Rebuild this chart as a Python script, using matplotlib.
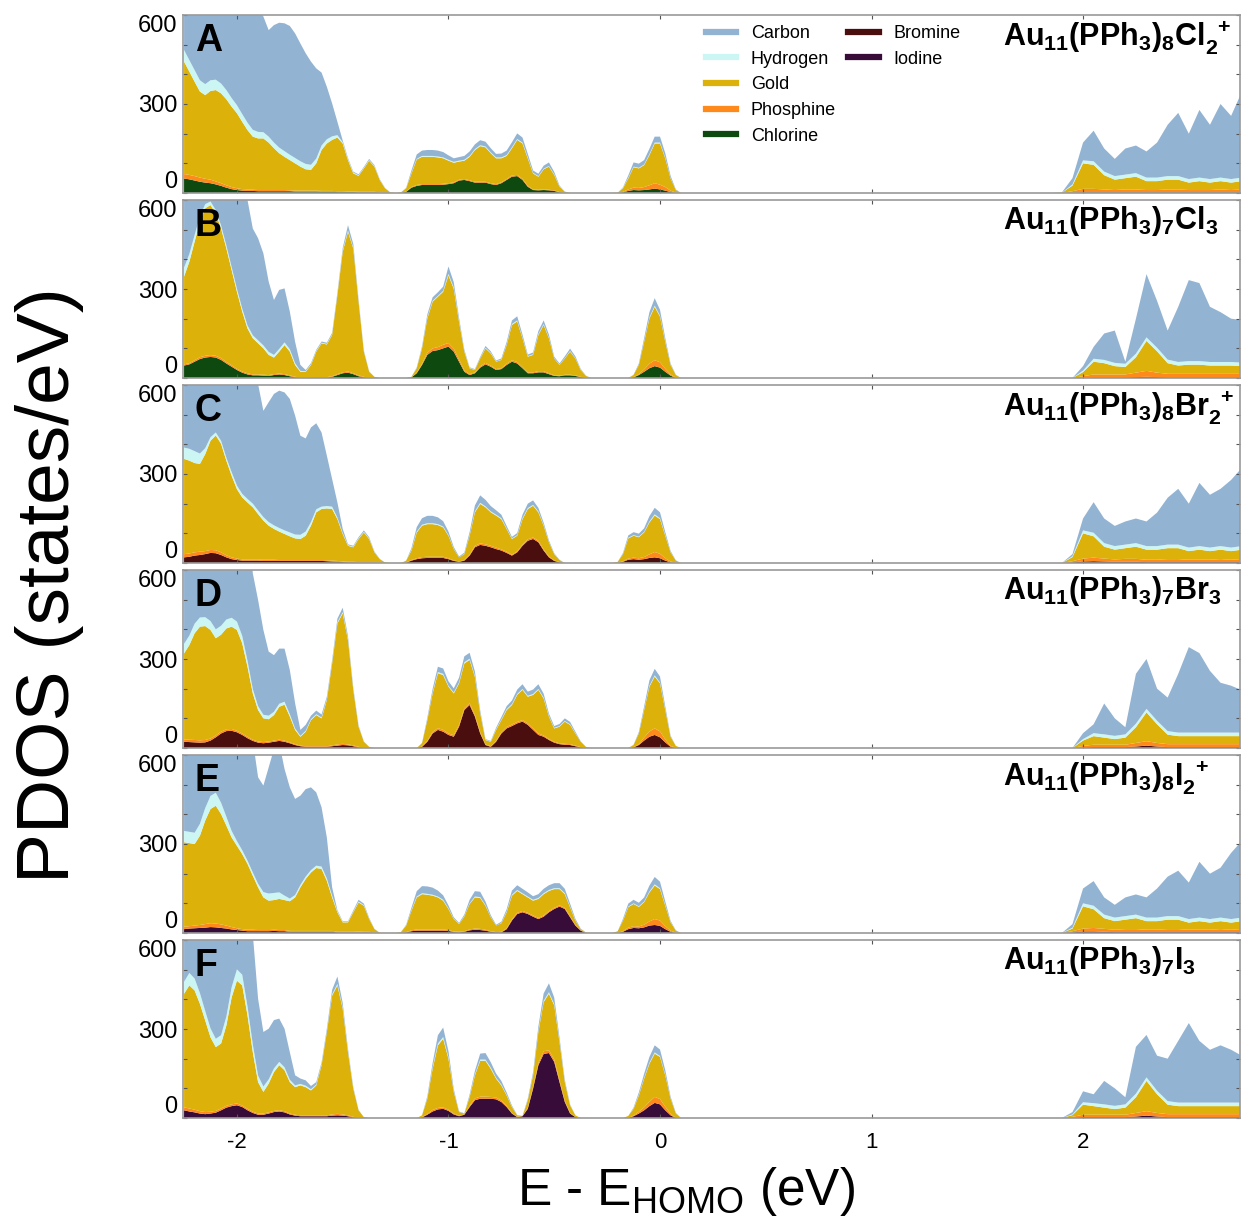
import numpy as np
import matplotlib.pyplot as plt
from matplotlib.lines import Line2D

plt.rcParams['font.family'] = ['Liberation Sans', 'DejaVu Sans']
plt.rcParams['mathtext.fontset'] = 'custom'
plt.rcParams['mathtext.rm'] = 'Liberation Sans'
plt.rcParams['mathtext.bf'] = 'Liberation Sans:bold'
plt.rcParams['mathtext.it'] = 'Liberation Sans:italic'

# energy grid, eV relative to HOMO (occupied side sampled finer than the LUMO side)
energy_low = np.arange(-2.25, 0.15 + 1e-6, 0.025)
energy_high = np.arange(1.85, 2.75 + 1e-6, 0.05)
energy = np.concatenate([energy_low, energy_high])

# ---- A: Au11(PPh3)8Cl2+ ----
a_halogen = [49, 46, 42, 38, 35, 33, 29, 24, 18, 13, 10, 8, 7,
             7, 6, 6, 6, 6, 6, 6, 6, 5, 5, 5, 5, 5, 4, 4, 4, 3,
             3, 3, 3, 2, 2, 2, 2, 1, 0, 0, 0, 0,
             4, 18, 24, 27, 27, 27, 27, 28, 30, 33, 42, 44, 40, 35, 35, 35, 30, 27, 33, 44, 55, 57, 44, 21, 10, 9, 10, 9, 7, 2, 0,
             0, 0, 0, 0, 0, 0, 0, 0, 0, 0,
             2, 7, 10, 9, 10, 12, 15, 12, 8, 3, 0, 0, 0, 0,
             0, 0, 1, 2, 2, 2, 2, 2, 2, 2, 2, 2, 2, 2, 2, 2, 2, 2, 2]
a_phos = [15, 15, 15, 14, 13, 12, 10, 9, 8, 7, 6, 5, 5,
          4, 4, 4, 4, 4, 4, 4,
          3, 3, 3, 3, 3, 3, 3, 3, 3, 3, 3,
          2, 2, 2, 2, 2, 2, 1, 1, 0, 0, 0,
          1, 2, 3, 3, 3, 3, 3, 3, 3, 3, 3, 3, 3, 3, 3, 3, 3, 3, 3, 3, 4, 4, 4, 3, 2, 2, 2, 2, 2, 1, 0,
          0, 0, 0, 0, 0, 0, 0, 0, 0, 0,
          2, 5, 8, 8, 10, 14, 18, 16, 12, 5, 1, 0, 0, 0,
          0, 0, 5, 12, 12, 10, 8, 10, 10, 8, 8, 10, 10, 8, 8, 8, 10, 8, 10]
a_gold = [379, 348, 318, 290, 282, 299, 308, 303, 290, 271, 253, 227, 200, 179, 174, 174,
          160, 141, 124, 112, 102, 92, 81, 72, 70, 92, 138, 160, 172, 181, 161,
          106, 61, 54, 79, 105, 85, 42, 15, 2, 0, 2,
          11, 46, 86, 92, 92, 92, 90, 86, 76, 66, 61, 62, 79, 107, 120, 116, 101, 87, 81, 78, 92, 118, 119, 93, 54, 44, 68, 78, 52, 18, 4,
          0, 0, 0, 0, 0, 0, 0, 0, 0, 1,
          12, 37, 69, 66, 74, 102, 134, 139, 97, 41, 9, 0, 0, 0,
          0, 1, 19, 86, 81, 48, 35, 38, 43, 30, 30, 33, 33, 25, 30, 25, 28, 25, 28]
a_hyd = [39, 39, 39, 38, 37, 36, 35, 33, 31, 29, 27, 26, 25, 23, 22, 21,
         20, 19, 19, 19, 18, 18, 18, 18, 17, 16, 15, 14, 12, 8, 4,
         3, 3, 2, 2, 2, 2, 1, 1, 0, 0, 0,
         1, 2, 2, 3, 3, 3, 3, 3, 3, 3, 3, 3, 3, 3, 3, 3, 3, 3, 3, 3, 3, 3, 3, 3, 2, 2, 2, 2, 2, 1, 0,
         0, 0, 0, 0, 0, 0, 0, 0, 0, 0,
         1, 2, 2, 2, 2, 3, 3, 3, 2, 1, 0, 0, 0, 0,
         0, 0, 4, 10, 12, 12, 12, 12, 12, 12, 12, 12, 12, 12, 12, 12, 12, 12, 12]
a_carbon = [418, 452, 486, 520, 533, 520, 518, 481, 503, 480, 504, 484, 463, 437, 414, 390,
            359, 396, 421, 431, 434, 420, 397, 373, 348, 304, 246, 177, 111, 45, 6,
            4, 3, 3, 3, 4, 3, 2, 1, 0, 0, 0,
            1, 8, 15, 18, 20, 20, 20, 18, 15, 12, 12, 13, 15, 16, 17, 16, 14, 12, 13, 15, 17, 19, 17, 12, 8, 8, 10, 12, 8, 3, 1,
            0, 0, 0, 0, 0, 0, 0, 0, 0, 0,
            2, 8, 14, 14, 15, 18, 20, 20, 15, 8, 2, 0, 0, 0,
            0, 1, 21, 60, 103, 78, 58, 88, 93, 88, 118, 173, 213, 153, 228, 183, 248, 213, 288]

# ---- B: Au11(PPh3)7Cl3 ----
b_halogen = [42, 46, 55, 64, 69, 71, 69, 61, 49, 38, 27, 18, 12,
             9, 9, 8, 7, 10, 12, 10, 6, 2, 1, 1, 1, 1, 1, 1,
             4, 10, 16, 18, 13, 6, 2, 0, 0, 0, 0, 0, 0, 0, 0,
             2, 16, 44, 78, 91, 94, 100, 106, 89, 55, 21, 10, 16, 35, 46, 38, 27, 30, 44, 55, 49, 33, 16, 16, 19, 19, 13, 7, 6, 9, 9, 7, 3, 0,
             0, 0, 0, 0, 0, 0, 0, 0,
             2, 10, 21, 33, 40, 35, 21, 8, 0, 0, 0, 0,
             0, 0, 0, 1, 2, 2, 2, 2, 3, 4, 3, 2, 2, 2, 2, 2, 2, 2, 2]
b_phos = [4, 4, 5, 6, 6, 6, 6, 6, 5, 5, 4, 4, 4,
          3, 3, 3, 3, 3, 3, 3, 3, 2, 1, 1, 2, 2, 2, 2,
          2, 3, 3, 4, 3, 3, 2, 1, 0, 0, 0, 0, 0, 0, 0,
          0, 2, 4, 7, 9, 10, 12, 12, 10, 8, 5, 3, 3, 4, 5, 4, 3, 3, 4, 5, 5, 4, 3, 3, 4, 4, 3, 2, 2, 2, 2, 2, 1, 0,
          0, 0, 0, 0, 0, 0, 0, 0,
          1, 3, 8, 15, 20, 18, 10, 4, 1, 0, 0, 0,
          0, 0, 0, 5, 10, 10, 10, 10, 15, 20, 15, 12, 12, 12, 12, 12, 12, 12, 12]
b_gold = [296, 342, 400, 457, 497, 506, 480, 437, 383, 321, 260, 202, 151,
          122, 105, 89, 68, 56, 74, 98, 80, 40, 19, 19, 41, 86, 114, 110,
          139, 267, 407, 471, 421, 248, 85, 20, 4, 0, 0, 0, 0, 0, 0,
          2, 15, 52, 116, 157, 170, 179, 228, 202, 127, 63, 20, 8, 27, 49, 41, 25, 28, 63, 119, 137, 97, 53, 59, 122, 156, 118, 57, 36, 55, 78, 57, 23, 7,
          0, 0, 0, 0, 0, 0, 0, 0,
          7, 31, 93, 153, 180, 154, 91, 32, 9, 0, 0, 0,
          0, 0, 0, 14, 43, 38, 28, 25, 52, 101, 72, 36, 28, 31, 31, 28, 28, 28, 26]
b_hyd = [30, 26, 22, 18, 14, 12, 11, 10, 10, 10, 10, 10, 10,
         10, 10, 10, 10, 9, 9, 9, 8, 6, 3, 2, 2, 2, 2, 2,
         2, 3, 4, 4, 3, 2, 1, 0, 0, 0, 0, 0, 0, 0, 0,
         0, 1, 2, 3, 3, 3, 3, 5, 4, 3, 2, 1, 1, 1, 2, 2, 1, 1, 2, 3, 3, 2, 2, 2, 3, 3, 2, 1, 1, 1, 2, 1, 1, 0,
         0, 0, 0, 0, 0, 0, 0, 0,
         0, 1, 2, 3, 4, 3, 2, 1, 0, 0, 0, 0,
         0, 0, 0, 5, 10, 11, 11, 11, 12, 12, 12, 12, 12, 12, 12, 12, 12, 12, 12]
b_carbon = [428, 382, 318, 255, 214, 205, 234, 286, 333, 386, 419, 446, 423,
            360, 344, 310, 237, 185, 199, 182, 127, 72, 20, 4, 4, 4, 4, 4,
            5, 6, 8, 18, 12, 6, 3, 1, 0, 0, 0, 0, 0, 0, 0,
            0, 2, 5, 10, 12, 12, 14, 25, 18, 10, 5, 2, 2, 4, 6, 5, 3, 4, 8, 12, 14, 10, 5, 6, 10, 12, 10, 5, 4, 6, 8, 6, 3, 1,
            0, 0, 0, 0, 0, 0, 0, 0,
            1, 4, 10, 18, 25, 20, 10, 4, 1, 0, 0, 0,
            0, 0, 0, 15, 40, 89, 109, 7, 118, 213, 158, 98, 186, 273, 263, 186, 168, 146, 143]

# ---- C: Au11(PPh3)8Br2+ ----
c_halogen = [19, 21, 25, 27, 30, 34, 33, 27, 19, 13, 10, 8, 8,
             8, 8, 7, 7, 7, 7, 7, 7, 7, 7, 7, 7, 7, 7, 6, 5,
             4, 3, 2, 2, 1, 1, 1, 1, 0, 0, 0, 0, 0,
             1, 8, 13, 16, 17, 17, 17, 17, 13, 7, 4, 8, 25, 53, 61, 58, 53, 47, 42, 34, 25, 36, 58, 75, 81, 70, 42, 19, 7, 2,
             0, 0, 0, 0, 0, 0, 0, 0, 0, 0, 0,
             4, 11, 13, 11, 13, 17, 19, 16, 8, 2, 0, 0, 0, 0,
             0, 0, 2, 5, 6, 5, 4, 4, 4, 3, 3, 3, 3, 3, 3, 3, 3, 3, 3]
c_phos = [11, 11, 11, 11, 10, 10, 10, 9, 7, 6, 5, 4, 4,
          4, 4, 4, 4, 4, 3, 3, 3, 3, 3, 3, 3, 3, 3, 3, 3,
          3, 2, 2, 2, 2, 2, 2, 1, 1, 0, 0, 0, 0,
          1, 2, 3, 4, 4, 4, 4, 4, 3, 2, 1, 2, 3, 5, 5, 5, 5, 5, 4, 4, 3, 3, 4, 5, 5, 5, 4, 3, 2, 1,
          0, 0, 0, 0, 0, 0, 0, 0, 0, 0, 0,
          2, 4, 5, 5, 7, 12, 18, 15, 8, 3, 1, 0, 0, 0,
          0, 0, 4, 10, 12, 10, 8, 10, 10, 8, 8, 10, 10, 8, 8, 8, 10, 8, 10]
c_gold = [321, 313, 301, 296, 327, 368, 387, 366, 319, 275, 234, 209, 192,
          176, 153, 132, 115, 104, 96, 88, 80, 73, 71, 82, 116, 161, 172, 175, 174,
          141, 93, 54, 49, 78, 100, 78, 34, 12, 2, 0, 0, 0,
          6, 32, 87, 106, 110, 110, 107, 99, 76, 38, 14, 20, 64, 113, 133, 125, 113, 108, 102, 77, 53, 53, 86, 102, 107, 96, 80, 48, 21, 7,
          0, 0, 0, 0, 0, 0, 0, 0, 0, 0, 4,
          24, 68, 74, 71, 83, 108, 123, 117, 76, 31, 7, 0, 0, 0,
          0, 0, 14, 85, 72, 40, 33, 36, 41, 34, 34, 37, 37, 29, 34, 29, 32, 29, 32]
c_hyd = [38, 40, 40, 35, 20, 12, 10, 10, 10, 12, 12, 12, 12,
         12, 12, 12, 12, 12, 12, 12, 13, 13, 14, 14, 12, 10, 8, 8, 8,
         5, 3, 2, 2, 2, 2, 2, 1, 0, 0, 0, 0, 0,
         0, 2, 3, 3, 3, 3, 3, 3, 2, 1, 0, 1, 2, 3, 4, 3, 3, 3, 3, 2, 2, 2, 3, 3, 3, 3, 2, 1, 1, 0,
         0, 0, 0, 0, 0, 0, 0, 0, 0, 0, 0,
         1, 2, 2, 2, 2, 3, 4, 3, 2, 1, 0, 0, 0, 0,
         0, 0, 3, 10, 12, 12, 12, 12, 12, 12, 12, 12, 12, 12, 12, 12, 12, 12, 12]
c_carbon = [411, 415, 423, 431, 413, 376, 360, 388, 445, 494, 539, 567, 584,
            500, 426, 358, 404, 443, 463, 465, 450, 401, 334, 314, 319, 290, 250, 170, 93,
            51, 14, 3, 3, 4, 5, 4, 2, 1, 0, 0, 0, 0,
            0, 6, 15, 22, 25, 25, 23, 18, 12, 6, 3, 4, 10, 20, 25, 22, 18, 15, 12, 8, 5, 7, 12, 15, 15, 12, 8, 5, 2, 1,
            0, 0, 0, 0, 0, 0, 0, 0, 0, 0, 0,
            3, 8, 10, 10, 12, 18, 22, 20, 10, 4, 1, 0, 0, 0,
            0, 0, 7, 40, 103, 83, 68, 78, 83, 83, 113, 158, 188, 148, 213, 178, 193, 228, 263]

# ---- D: Au11(PPh3)7Br3 ----
d_halogen = [21, 20, 19, 18, 19, 25, 36, 49, 57, 58, 53, 44, 33,
             24, 18, 16, 18, 21, 24, 21, 16, 10, 6, 4, 4, 4, 4, 4, 6,
             8, 10, 9, 6, 2, 0, 0, 0, 0, 0, 0, 0, 0, 0, 0, 0,
             4, 21, 49, 61, 55, 44, 38, 72, 128, 145, 106, 49, 10, 4, 21, 49, 66, 74, 83, 89, 78, 61, 44, 38, 27, 18, 13, 11, 10, 6, 2, 0,
             0, 0, 0, 0, 0, 0, 0, 0,
             2, 10, 25, 38, 44, 36, 19, 4, 0, 0, 0, 0,
             0, 0, 0, 2, 3, 3, 3, 3, 5, 8, 5, 3, 3, 3, 3, 3, 3, 3, 3]
d_phos = [8, 8, 8, 8, 8, 7, 6, 6, 6, 6, 5, 5, 5,
          4, 4, 4, 4, 4, 4, 4, 3, 3, 2, 2, 2, 2, 2, 2, 3,
          4, 4, 3, 3, 2, 1, 0, 0, 0, 0, 0, 0, 0, 0, 0, 0,
          1, 3, 5, 6, 6, 5, 5, 6, 6, 6, 5, 4, 2, 2, 3, 4, 5, 5, 5, 5, 5, 5, 5, 4, 3, 3, 3, 3, 3, 2, 1, 0,
          0, 0, 0, 0, 0, 0, 0, 0,
          1, 3, 10, 18, 22, 20, 10, 3, 1, 0, 0, 0,
          0, 0, 0, 5, 8, 8, 8, 8, 12, 15, 12, 10, 10, 10, 10, 10, 10, 10, 10]
d_gold = [290, 319, 360, 383, 384, 366, 328, 327, 340, 345, 340, 304, 236,
          156, 106, 80, 75, 86, 111, 121, 87, 48, 30, 49, 88, 105, 94, 156, 276,
          408, 440, 352, 187, 68, 20, 4, 0, 0, 0, 0, 0, 0, 0, 0, 0,
          11, 70, 130, 185, 185, 158, 141, 140, 151, 146, 129, 64, 15, 15, 37, 41, 57, 66, 91, 102, 90, 113, 147, 125, 76, 45, 56, 75, 65, 41, 18, 4,
          0, 0, 0, 0, 0, 0, 0, 0,
          7, 36, 93, 151, 175, 162, 99, 31, 6, 0, 0, 0,
          0, 0, 0, 18, 29, 24, 19, 24, 53, 97, 63, 32, 27, 27, 27, 27, 27, 27, 27]
d_hyd = [32, 32, 32, 31, 30, 30, 30, 30, 30, 30, 28, 25, 20,
         15, 13, 12, 12, 11, 10, 10, 8, 5, 3, 3, 3, 3, 3, 3, 3,
         4, 4, 3, 2, 1, 0, 0, 0, 0, 0, 0, 0, 0, 0, 0, 0,
         0, 2, 3, 4, 4, 3, 3, 3, 4, 4, 3, 2, 1, 1, 2, 2, 3, 3, 3, 3, 3, 3, 3, 3, 2, 2, 2, 2, 2, 1, 0, 0,
         0, 0, 0, 0, 0, 0, 0, 0,
         0, 1, 2, 3, 4, 3, 2, 1, 0, 0, 0, 0,
         0, 0, 0, 5, 10, 11, 11, 11, 12, 12, 12, 12, 12, 12, 12, 12, 12, 12, 12]
d_carbon = [449, 421, 381, 360, 359, 372, 400, 388, 367, 361, 374, 422, 506,
            390, 358, 286, 216, 191, 186, 179, 149, 85, 20, 20, 12, 12, 10, 8, 8,
            12, 15, 10, 6, 3, 1, 0, 0, 0, 0, 0, 0, 0, 0, 0, 0,
            1, 6, 12, 18, 18, 15, 14, 16, 20, 20, 15, 8, 2, 2, 5, 8, 10, 12, 15, 16, 14, 15, 16, 13, 8, 6, 7, 9, 8, 5, 2, 0,
            0, 0, 0, 0, 0, 0, 0, 0,
            1, 4, 10, 18, 22, 20, 10, 3, 0, 0, 0, 0,
            0, 0, 0, 20, 30, 104, 59, 24, 168, 168, 108, 113, 198, 288, 268, 208, 168, 158, 143]

# ---- E: Au11(PPh3)8I2+ ----
e_halogen = [13, 15, 16, 17, 18, 20, 19, 17, 15, 12, 10, 8, 6,
             6, 6, 6, 6, 7, 6, 6, 4, 4, 4, 4, 4, 4, 4, 4, 4,
             2, 2, 2, 2, 2, 2, 2, 0, 0, 0, 0, 0, 0,
             2, 6, 8, 8, 8, 8, 8, 8, 7, 3, 2, 4, 9, 11, 10, 8, 4, 2, 2, 13, 42, 64, 70, 64, 55, 47, 55, 70, 81, 89, 81, 53, 25, 8, 0,
             0, 0, 0, 0, 0, 0,
             4, 13, 17, 16, 19, 25, 27, 24, 13, 4, 0, 0, 0, 0,
             0, 0, 2, 5, 5, 4, 3, 3, 3, 3, 3, 3, 3, 3, 3, 3, 3, 3, 3]
e_phos = [8, 8, 9, 10, 12, 13, 13, 12, 10, 8, 6, 5, 5,
          5, 4, 4, 4, 4, 4, 4, 3, 3, 3, 3, 3, 3, 3, 3, 3,
          2, 2, 2, 2, 3, 2, 2, 1, 0, 0, 0, 0, 0,
          1, 3, 4, 4, 4, 4, 4, 4, 3, 2, 2, 2, 3, 4, 4, 3, 2, 1, 2, 3, 4, 4, 4, 4, 4, 4, 4, 4, 4, 4, 4, 3, 2, 1, 0,
          0, 0, 0, 0, 0, 0,
          2, 5, 6, 6, 9, 14, 20, 18, 10, 4, 1, 0, 0, 0,
          0, 0, 4, 10, 12, 10, 8, 10, 10, 8, 8, 10, 10, 8, 8, 8, 10, 8, 10]
e_gold = [285, 280, 275, 301, 349, 385, 397, 372, 337, 302, 278, 253, 222,
          182, 144, 110, 99, 100, 105, 101, 100, 113, 147, 175, 197, 212, 209, 169, 113,
          66, 32, 32, 66, 98, 88, 43, 12, 1, 0, 0, 0, 3,
          22, 66, 108, 119, 117, 114, 108, 97, 71, 42, 26, 50, 86, 105, 104, 81, 47, 22, 29, 54, 80, 74, 57, 52, 50, 64, 72, 68, 63, 55, 46, 31, 15, 4, 2,
          0, 0, 0, 0, 0, 6,
          36, 69, 75, 66, 76, 98, 113, 106, 69, 28, 7, 0, 0, 0,
          0, 0, 9, 75, 63, 36, 29, 32, 37, 29, 29, 32, 32, 24, 29, 24, 27, 24, 27]
e_hyd = [38, 38, 38, 40, 42, 44, 44, 38, 30, 22, 16, 13, 11,
         11, 12, 18, 24, 24, 22, 15, 9, 8, 8, 8, 8, 8, 8, 8, 6,
         3, 2, 2, 2, 3, 2, 1, 0, 0, 0, 0, 0, 0,
         1, 2, 3, 3, 3, 3, 3, 3, 2, 1, 1, 1, 2, 3, 3, 2, 1, 0, 1, 2, 3, 3, 3, 3, 3, 3, 3, 3, 3, 3, 3, 2, 1, 0, 0,
         0, 0, 0, 0, 0, 0,
         1, 2, 2, 2, 2, 3, 4, 3, 2, 1, 0, 0, 0, 0,
         0, 0, 3, 10, 12, 12, 12, 12, 12, 12, 12, 12, 12, 12, 12, 12, 12, 12, 12]
e_carbon = [456, 459, 462, 432, 379, 338, 327, 361, 408, 456, 490, 521, 556,
            446, 359, 359, 425, 485, 503, 427, 375, 324, 301, 295, 279, 247, 200, 138, 28,
            4, 2, 2, 4, 6, 5, 3, 1, 0, 0, 0, 0, 0,
            2, 8, 18, 24, 25, 24, 20, 15, 10, 5, 3, 5, 12, 18, 18, 12, 6, 3, 4, 8, 14, 16, 15, 14, 12, 13, 15, 16, 17, 17, 15, 10, 5, 2, 0,
            0, 0, 0, 0, 0, 0,
            5, 10, 12, 12, 14, 20, 25, 22, 12, 4, 1, 0, 0, 0,
            0, 0, 12, 50, 83, 58, 43, 63, 68, 68, 98, 133, 153, 123, 188, 153, 168, 223, 258]

# ---- F: Au11(PPh3)7I3 ----
f_halogen = [26, 22, 19, 15, 13, 15, 18, 26, 35, 40, 43, 37, 26,
             17, 11, 11, 15, 20, 22, 19, 12, 8, 6, 6, 6, 6, 6, 6,
             8, 9, 8, 6, 2, 0, 0, 0, 0, 0, 0, 0, 0, 0, 0, 0, 0,
             2, 11, 22, 29, 31, 24, 12, 6, 11, 37, 60, 65, 65, 65, 63, 54, 37, 15, 3, 6, 31, 99, 178, 216, 219, 189, 121, 54, 15, 3,
             0, 0, 0, 0, 0, 0, 0, 0, 0, 0,
             6, 15, 26, 40, 51, 46, 26, 9, 0, 0, 0, 0,
             0, 0, 1, 3, 3, 3, 3, 3, 5, 8, 5, 3, 3, 3, 3, 3, 3, 3, 3]
f_phos = [10, 10, 9, 8, 7, 6, 6, 6, 6, 6, 6, 5, 5,
          4, 4, 4, 4, 4, 4, 4, 3, 3, 3, 3, 3, 3, 3, 3,
          4, 5, 4, 3, 2, 1, 0, 0, 0, 0, 0, 0, 0, 0, 0, 0, 0,
          1, 3, 5, 5, 5, 4, 3, 2, 1, 4, 6, 7, 7, 6, 6, 5, 4, 2, 1, 0, 3, 6, 8, 9, 9, 8, 6, 4, 2, 0,
          0, 0, 0, 0, 0, 0, 0, 0, 0, 0,
          2, 6, 10, 15, 20, 18, 12, 5, 1, 0, 0, 0,
          0, 0, 3, 8, 8, 8, 8, 8, 12, 15, 12, 10, 10, 10, 10, 10, 10, 10, 10]
f_gold = [383, 415, 402, 362, 309, 251, 215, 219, 271, 361, 414, 405, 315,
          201, 106, 73, 97, 131, 152, 138, 106, 93, 101, 95, 84, 101, 169, 281,
          401, 433, 357, 213, 95, 25, 3, 0, 0, 0, 0, 0, 0, 0, 0, 0, 0,
          6, 51, 139, 211, 231, 172, 73, 12, 3, 30, 78, 121, 121, 95, 64, 51, 35, 20, 5, 1, 26, 39, 104, 166, 191, 183, 129, 63, 26, 6,
          0, 0, 0, 0, 0, 0, 0, 0, 0, 7,
          23, 55, 97, 128, 146, 142, 106, 51, 14, 0, 0, 0,
          0, 0, 6, 34, 29, 24, 19, 24, 53, 102, 63, 32, 27, 27, 27, 27, 27, 27, 27]
f_hyd = [40, 42, 40, 36, 32, 30, 28, 28, 30, 34, 38, 36, 30,
         26, 22, 18, 14, 12, 11, 10, 8, 6, 5, 5, 4, 3, 3, 3,
         4, 5, 4, 3, 2, 0, 0, 0, 0, 0, 0, 0, 0, 0, 0, 0, 0,
         0, 2, 4, 6, 6, 5, 2, 0, 0, 2, 3, 4, 4, 4, 3, 3, 2, 1, 0, 0, 1, 2, 3, 4, 5, 4, 3, 2, 1, 0,
         0, 0, 0, 0, 0, 0, 0, 0, 0, 0,
         1, 2, 2, 3, 4, 3, 2, 1, 0, 0, 0, 0,
         0, 0, 2, 8, 10, 11, 11, 11, 12, 12, 12, 12, 12, 12, 12, 12, 12, 12, 12]
f_carbon = [341, 311, 330, 379, 439, 498, 533, 521, 458, 359, 299, 317, 424,
            372, 259, 184, 171, 163, 146, 130, 93, 34, 18, 18, 11, 8, 6, 8,
            15, 25, 15, 8, 4, 1, 0, 0, 0, 0, 0, 0, 0, 0, 0, 0, 0,
            0, 6, 15, 28, 32, 20, 8, 2, 1, 6, 12, 20, 22, 18, 14, 12, 8, 4, 1, 0, 4, 8, 15, 25, 30, 22, 12, 6, 2, 0,
            0, 0, 0, 0, 0, 0, 0, 0, 0, 0,
            3, 8, 14, 20, 24, 22, 15, 6, 2, 0, 0, 0,
            0, 0, 8, 37, 30, 79, 59, 24, 158, 143, 118, 143, 208, 268, 208, 178, 193, 178, 158]

colors = {
    'Carbon': '#93b3d3',
    'Hydrogen': '#ccf6f4',
    'Gold': '#dcb20a',
    'Phosphine': '#ff8a1c',
    'Chlorine': '#0e4a10',
    'Bromine': '#4a0e0e',
    'Iodine': '#380c38',
}

panels = [
    ('A', r'$\mathbf{Au_{11}(PPh_3)_8Cl_2^{\enspace+}}$', 'Chlorine', a_halogen, a_phos, a_gold, a_hyd, a_carbon),
    ('B', r'$\mathbf{Au_{11}(PPh_3)_7Cl_3}$', 'Chlorine', b_halogen, b_phos, b_gold, b_hyd, b_carbon),
    ('C', r'$\mathbf{Au_{11}(PPh_3)_8Br_2^{\enspace+}}$', 'Bromine', c_halogen, c_phos, c_gold, c_hyd, c_carbon),
    ('D', r'$\mathbf{Au_{11}(PPh_3)_7Br_3}$', 'Bromine', d_halogen, d_phos, d_gold, d_hyd, d_carbon),
    ('E', r'$\mathbf{Au_{11}(PPh_3)_8I_2^{\enspace+}}$', 'Iodine', e_halogen, e_phos, e_gold, e_hyd, e_carbon),
    ('F', r'$\mathbf{Au_{11}(PPh_3)_7I_3}$', 'Iodine', f_halogen, f_phos, f_gold, f_hyd, f_carbon),
]

W, H = 1241, 1226
fig = plt.figure(figsize=(W / 100, H / 100), dpi=100)

for k, (letter, formula, halo_name, halo, phos, gold, hyd, carb) in enumerate(panels):
    for name, arr in zip(['halogen', 'phos', 'gold', 'hyd', 'carbon'], [halo, phos, gold, hyd, carb]):
        if len(arr) != len(energy):
            raise ValueError(f'{letter} {name}: {len(arr)} values, expected {len(energy)}')

    bottom_px = 193 + 185 * k
    ax = fig.add_axes([183 / W, 1 - bottom_px / H, 1057 / W, 178 / H])
    ax.stackplot(energy, halo, phos, gold, hyd, carb,
                 colors=[colors[halo_name], colors['Phosphine'], colors['Gold'],
                         colors['Hydrogen'], colors['Carbon']],
                 linewidth=0)
    ax.set_xlim(-2.255, 2.742)
    ax.set_ylim(0, 600)
    ax.set_xticks([-2, -1, 0, 1, 2])
    ax.set_xticklabels(['-2', '-1', '0', '1', '2'], fontsize=16)
    ax.set_yticks(np.arange(0, 601, 100), minor=True)
    ax.set_yticks([0, 300, 600])
    labs = ax.set_yticklabels(['0', '300', '600'], fontsize=17)
    labs[0].set_va('bottom')
    labs[2].set_va('top')
    ax.tick_params(which='both', direction='in', top=True, right=True,
                   length=3, width=0.8, color='#555555')
    ax.tick_params(axis='y', pad=4)
    ax.tick_params(axis='x', pad=10)
    if k < len(panels) - 1:
        ax.tick_params(labelbottom=False)
    for sp in ax.spines.values():
        sp.set_color('#9a9a9a')
        sp.set_linewidth(1.2)

    ax.text(0.011, 0.955, letter, transform=ax.transAxes, fontsize=27,
            fontweight='bold', ha='left', va='top')
    ax.text(0.776, 0.975, formula, transform=ax.transAxes, fontsize=22,
            ha='left', va='top')

    if k == 0:
        names = ['Carbon', 'Hydrogen', 'Gold', 'Phosphine', 'Chlorine', 'Bromine', 'Iodine']
        handles = [Line2D([], [], color=colors[n], lw=4.5) for n in names]
        handles += [Line2D([], [], color='none') for _ in range(3)]
        ax.legend(handles, names + ['', '', ''], ncol=2, frameon=False,
                  loc='upper left', bbox_to_anchor=(0.485, 1.0), borderaxespad=0,
                  fontsize=13, handlelength=1.7, handletextpad=0.8,
                  columnspacing=0.7, labelspacing=0.48, borderpad=0.55)

fig.text(50 / W, 1 - 585 / H, 'PDOS (states/eV)', rotation=90, fontsize=54,
         ha='center', va='center')
fig.text(686 / W, 1 - 1192 / H, r'E - E$_{\mathrm{HOMO}}$ (eV)', fontsize=37,
         ha='center', va='center')

fig.savefig('out.png', dpi=100)
